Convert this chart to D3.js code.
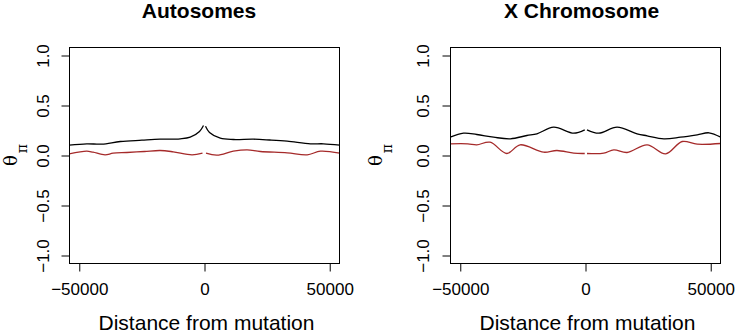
<!DOCTYPE html>
<html>
<head>
<meta charset="utf-8">
<script src="https://d3js.org/d3.v7.min.js"></script>
<style>
  body { margin: 0; background: #fff; }
  text { font-family: "Liberation Sans", Arial, sans-serif; fill: #000; }
</style>
</head>
<body>
<script>
// Values (x = distance from mutation, y = theta pi)
// null marks the little break at the mutation itself
var autoBlackX = [-54000, -47000, -41000, -33600, -25000, -17700, -9700, -5700, -2000, -400, 0, 400, 2000, 6300, 11500, 19500, 26000, 33000, 42300, 47500, 54000];
var autoBlackY = [0.103, 0.117, 0.114, 0.140, 0.153, 0.163, 0.167, 0.183, 0.240, 0.300, null, 0.292, 0.230, 0.173, 0.160, 0.163, 0.155, 0.143, 0.117, 0.117, 0.103];

var autoRedX = [-54000, -47000, -44500, -39700, -36500, -31000, -24000, -17700, -12500, -5000, -800, 0, 600, 5000, 11500, 17000, 22300, 33000, 41000, 46300, 54000];
var autoRedY = [0.017, 0.043, 0.033, 0.007, 0.023, 0.030, 0.040, 0.050, 0.037, 0.007, 0.023, null, 0.023, 0.003, 0.043, 0.057, 0.040, 0.027, 0.007, 0.043, 0.023];

var xBlackX = [-54000, -48700, -43400, -36700, -30000, -23400, -19400, -12700, -4700, -300, 0, 600, 5300, 12600, 20600, 24600, 31300, 37900, 44600, 49300, 54000];
var xBlackY = [0.183, 0.223, 0.210, 0.183, 0.167, 0.200, 0.217, 0.283, 0.223, 0.257, null, 0.257, 0.223, 0.283, 0.217, 0.197, 0.167, 0.183, 0.207, 0.227, 0.183];

var xRedX = [-54000, -47000, -43400, -38100, -31400, -26100, -16700, -11400, -4700, -300, 0, 600, 7300, 11300, 16600, 24600, 32000, 38600, 44600, 54000];
var xRedY = [0.117, 0.117, 0.107, 0.133, 0.020, 0.107, 0.033, 0.050, 0.023, 0.020, null, 0.020, 0.023, 0.057, 0.030, 0.107, 0.017, 0.140, 0.113, 0.120];

var xTicks = [-50000, 0, 50000];
var yTicks = [-1.0, -0.5, 0.0, 0.5, 1.0];
var titles = ["Autosomes", "X Chromosome"];
var xLabel = "Distance from mutation";

var svg = d3.select("body")
  .append("svg")
  .attr("width", 741)
  .attr("height", 334);

// where each panel sits
var panels = [
  {title: titles[0], left: 69.5, right: 339.5, tickLab: 49, theta: 17, titleX: 199, labX: 206.5,
   black: [autoBlackX, autoBlackY], red: [autoRedX, autoRedY]},
  {title: titles[1], left: 450.5, right: 720.5, tickLab: 428.5, theta: 382, titleX: 581.5, labX: 587.5,
   black: [xBlackX, xBlackY], red: [xRedX, xRedY]}
];

var plotTop = 47.5, plotBottom = 263.5;

panels.forEach(function(p, i) { makePanel(p, i); });

function makePanel(p, i) {
  var xScale = d3.scaleLinear()
    .domain([-53900, 53900])
    .range([p.left, p.right]);
  var yScale = d3.scaleLinear()
    .domain([-1.08, 1.08])
    .range([plotBottom, plotTop]);

  // clip lines to the box like R does
  svg.append("clipPath")
    .attr("id", "clip" + i)
    .append("rect")
    .attr("x", p.left).attr("y", plotTop)
    .attr("width", p.right - p.left).attr("height", plotBottom - plotTop);

  var line = d3.line()
    .defined(function(d) { return d[1] !== null; })
    .x(function(d) { return xScale(d[0]); })
    .y(function(d) { return yScale(d[1]); })
    .curve(d3.curveCatmullRom.alpha(0.5));

  [[p.red, "#a52a2a"], [p.black, "#000"]].forEach(function(s) {
    var pts = s[0][0].map(function(x, k) { return [x, s[0][1][k]]; });
    svg.append("path")
      .datum(pts)
      .attr("clip-path", "url(#clip" + i + ")")
      .attr("fill", "none")
      .attr("stroke", s[1])
      .attr("stroke-width", 1.3)
      .attr("d", line);
  });

  // box
  svg.append("rect")
    .attr("x", p.left).attr("y", plotTop)
    .attr("width", p.right - p.left).attr("height", plotBottom - plotTop)
    .attr("fill", "none")
    .attr("stroke", "#000")
    .attr("stroke-width", 1);

  // x axis
  var gx = svg.append("g")
    .attr("transform", "translate(0," + plotBottom + ")")
    .call(d3.axisBottom(xScale).tickValues(xTicks).tickSize(8).tickFormat(d3.format("d")));
  gx.select(".domain").remove();
  gx.selectAll("text")
    .attr("y", 31.5).attr("dy", 0)
    .style("font-size", "17px")
    .style("font-family", "Liberation Sans, Arial, sans-serif");

  // y axis, labels turned sideways
  var gy = svg.append("g")
    .attr("transform", "translate(" + p.left + ",0)")
    .call(d3.axisLeft(yScale).tickValues(yTicks).tickSize(8).tickFormat(d3.format(".1f")));
  gy.select(".domain").remove();
  gy.selectAll("text")
    .attr("transform", "rotate(-90)")
    .attr("x", 0)
    .attr("y", -(p.left - p.tickLab))
    .attr("dy", 0)
    .attr("text-anchor", "middle")
    .style("font-size", "17px")
    .style("font-family", "Liberation Sans, Arial, sans-serif");

  // title
  svg.append("text")
    .attr("x", p.titleX).attr("y", 18)
    .attr("text-anchor", "middle")
    .style("font-size", "21px")
    .style("font-weight", "bold")
    .text(p.title);

  // x label
  svg.append("text")
    .attr("x", p.labX).attr("y", 330)
    .attr("text-anchor", "middle")
    .style("font-size", "21px")
    .text(xLabel);

  // theta pi label
  var yl = svg.append("text")
    .attr("transform", "translate(" + p.theta + ",166) rotate(-90)")
    .attr("text-anchor", "start")
    .style("font-family", "DejaVu Serif, Liberation Serif, serif");
  yl.append("tspan").style("font-size", "18px").text("θ");
  yl.append("tspan").attr("dx", 2).attr("dy", 10).style("font-size", "14px").text("π");
}
</script>
</body>
</html>
